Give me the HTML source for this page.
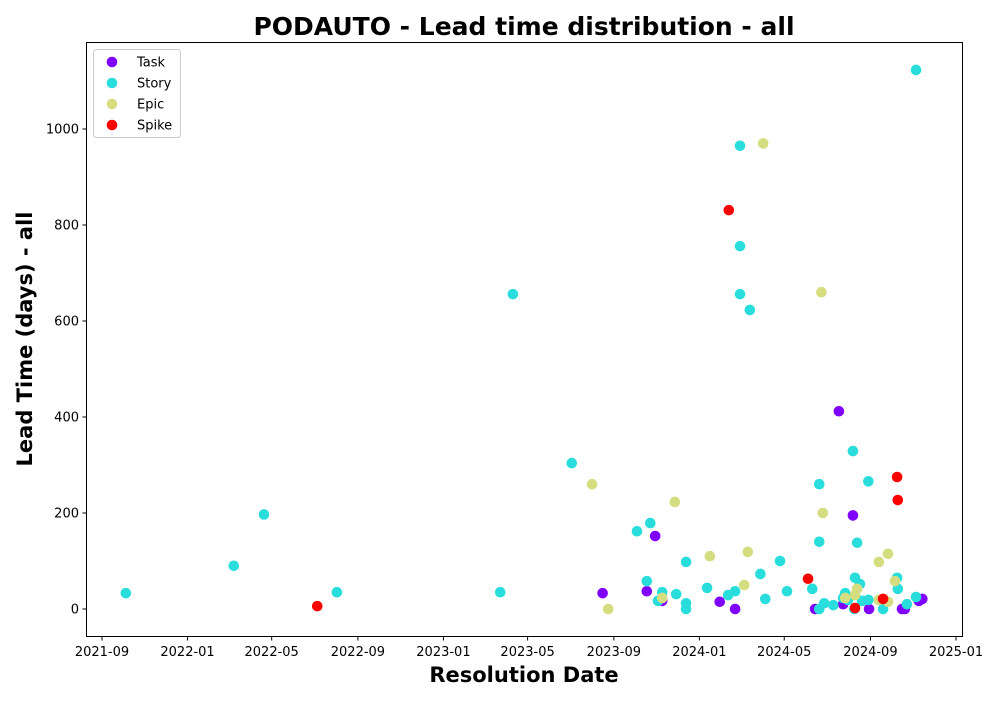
<!DOCTYPE html>
<html><head><meta charset="utf-8"><style>
body{margin:0;background:#fff;font-family:"Liberation Sans","DejaVu Sans",sans-serif}
</style></head><body>
<svg id="chart" width="1000" height="700" xmlns="http://www.w3.org/2000/svg" font-family="DejaVu Sans, Liberation Sans, sans-serif">
<rect width="1000" height="700" fill="#fff"/>
<text x="524" y="35" text-anchor="middle" font-size="25" font-weight="bold">PODAUTO - Lead time distribution - all</text>
<text x="524" y="682" text-anchor="middle" font-size="21" font-weight="bold">Resolution Date</text>
<text transform="translate(32,339) rotate(-90)" text-anchor="middle" font-size="21" font-weight="bold">Lead Time (days) - all</text>
<g id="ticks"></g>
<g id="marks"></g>
<rect x="86.5" y="42.5" width="876" height="594" fill="none" stroke="#000" stroke-width="1"/>
<g id="legend"></g>
</svg>
<script>
const series = ["Task","Story","Epic","Spike"];
const colors = ["#8000ff","#2adddd","#d4dd80","#ff0000"];
const taskDates = ["2023-08-16","2023-10-18","2023-10-30","2023-11-09","2024-01-30","2024-02-21","2024-06-14","2024-07-18","2024-07-24","2024-08-07","2024-08-30","2024-10-16","2024-10-20","2024-11-09","2024-11-14"];
const taskValues = [33,37,152,17,15,0,0,412,10,195,0,0,0,17,21];
const storyDates = ["2021-10-05","2022-03-08","2022-04-20","2022-08-02","2023-03-23","2023-04-10","2023-07-03","2023-10-04","2023-10-18","2023-10-23","2023-11-03","2023-11-09","2023-11-29","2023-12-13","2023-12-13","2023-12-13","2024-01-12","2024-02-11","2024-02-21","2024-02-28","2024-02-28","2024-02-28","2024-03-13","2024-03-28","2024-04-04","2024-04-25","2024-05-05","2024-06-10","2024-06-20","2024-06-20","2024-06-20","2024-06-27","2024-07-10","2024-07-24","2024-07-27","2024-07-31","2024-08-07","2024-08-10","2024-08-13","2024-08-17","2024-08-20","2024-08-29","2024-08-29","2024-09-19","2024-10-09","2024-10-10","2024-10-23","2024-11-05","2024-11-05","2024-08-09"];
const storyValues = [33,90,197,35,35,656,304,162,58,179,17,35,31,98,12,0,44,29,37,965,756,656,623,73,21,100,37,42,260,140,0,12,8,23,33,19,329,65,138,52,17,266,19,0,65,42,10,1123,25,0];
const epicDates = ["2023-08-01","2023-08-24","2023-11-09","2023-11-27","2024-01-16","2024-03-05","2024-03-10","2024-04-01","2024-06-23","2024-06-25","2024-07-27","2024-08-10","2024-08-13","2024-09-13","2024-09-26","2024-10-06","2024-09-13","2024-09-26"];
const epicValues = [260,0,23,223,110,50,119,970,660,200,23,29,42,98,115,58,19,15];
const spikeDates = ["2022-07-05","2024-02-12","2024-06-04","2024-08-10","2024-09-19","2024-10-09","2024-10-10"];
const spikeValues = [6,831,63,2,21,275,227];
const xTickLabels = ["2021-09","2022-01","2022-05","2022-09","2023-01","2023-05","2023-09","2024-01","2024-05","2024-09","2025-01"];
const yTickLabels = [0,200,400,600,800,1000];

const NS="http://www.w3.org/2000/svg";
const t0=Date.parse("2021-09-01"), t1=Date.parse("2025-01-01");
function xScale(d){return 102+(Date.parse(d)-t0)/(t1-t0)*854;}
function yScale(v){return 609-v*0.48;}
function el(tag,attrs,parent){const e=document.createElementNS(NS,tag);for(const k in attrs)e.setAttribute(k,attrs[k]);parent.appendChild(e);return e;}
const ticks=document.getElementById("ticks");
xTickLabels.forEach(l=>{const x=xScale(l+"-01");
 const ln=el("line",{x1:x,x2:x,y1:636.5,y2:640.5,stroke:"#000"},ticks);
 
 
 const t=el("text",{x:x,y:656,"text-anchor":"middle","font-size":"13"},ticks);t.textContent=l;
 
 });
yTickLabels.forEach(v=>{const y=yScale(v);
 const ln=el("line",{x1:82.5,x2:86.5,y1:y,y2:y,stroke:"#000"},ticks);
 
 
 const t=el("text",{x:79,y:y+4.5,"text-anchor":"end","font-size":"13"},ticks);t.textContent=v;
 
 });
const marks=document.getElementById("marks");
const allD=[taskDates,storyDates,epicDates,spikeDates], allV=[taskValues,storyValues,epicValues,spikeValues];
series.forEach((s,i)=>{allD[i].forEach((d,j)=>{
 const c=el("circle",{cx:xScale(d),cy:yScale(allV[i][j]),r:5.3,fill:colors[i]},marks);
 
 });});
const lg=document.getElementById("legend");
el("rect",{x:93.5,y:49.5,width:87,height:88,rx:3,fill:"#fff","fill-opacity":0.8,stroke:"#ccc"},lg);
series.forEach((s,i)=>{const y=62+i*21;
 const c=el("circle",{cx:112,cy:y,r:5.3,fill:colors[i]},lg);
 
 
 const t=el("text",{x:137,y:y+4.5,"font-size":"13"},lg);t.textContent=s;
 
 });
</script>
</body></html>
